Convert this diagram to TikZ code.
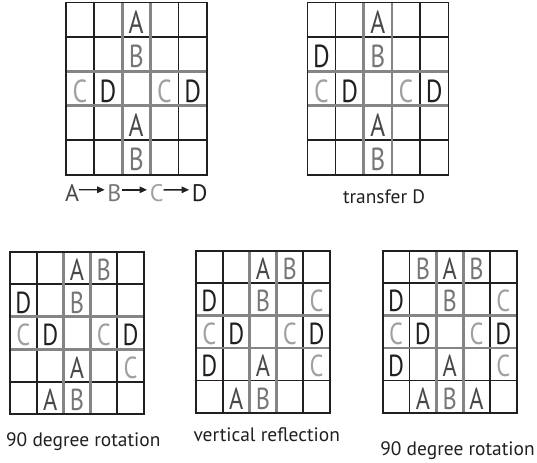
\documentclass[tikz,border=0pt]{standalone}
\usepackage{fontspec}
\setmainfont{PT Sans}
\newfontfamily\cellfont[FakeStretch=0.8]{PT Sans}
\usetikzlibrary{
    arrows.meta,
    positioning
}

\definecolor{inkD}{HTML}{231F20}
\definecolor{inkA}{HTML}{484848}
\definecolor{inkB}{HTML}{767676}
\definecolor{inkC}{HTML}{A0A0A0}
\definecolor{rulegray}{HTML}{858585}

\tikzset{
  board/.pic={
    \foreach \i in {1,4} {
      \draw[thinrule] (\i,0) -- (\i,5);
      \draw[thinrule] (0,\i) -- (5,\i);
    }
    \foreach \i in {2,3} {
      \draw[thickrule] (\i,0) -- (\i,5);
      \draw[thickrule] (0,\i) -- (5,\i);
    }
    \draw[thinrule] (0,0) rectangle (5,5);
  }
}

\begin{document}
\begin{tikzpicture}[
  x=1bp, y=-1bp,
  thinrule/.style={draw=inkD,line width=1.6bp},
  thickrule/.style={draw=rulegray,line width=2.8bp},
  cellsize/.style={font=\cellfont\fontsize{#1}{#1}\selectfont},
  celltext/.style={anchor=base,inner sep=0pt},
  cellA/.style={celltext,text=inkA},
  cellB/.style={celltext,text=inkB},
  cellC/.style={celltext,text=inkC},
  cellD/.style={celltext,text=inkD},
  captiontext/.style={anchor=base,inner sep=0pt,text=inkD,
    font=\fontsize{19.5}{19.5}\selectfont},
  arrow/.style={-{Triangle[length=7.5bp,width=6.5bp]},draw=inkD,line width=1.4bp}
]
\useasboundingbox (0,0) rectangle (537,463);

% starting board
\begin{scope}[shift={(65.7,2.7)},x=28.2bp,y=-34.4bp,every node/.style={cellsize=32}]
  \pic {board};
  \foreach \c/\r/\l in {3/1/A,3/2/B,1/3/C,2/3/D,4/3/C,5/3/D,3/4/A,3/5/B}
    \node[cell\l] (p1-\c-\r) at (\c-0.5,\r-0.11) {\l};
\end{scope}

% transfer D
\begin{scope}[shift={(307.3,2.7)},x=28.2bp,y=-34.4bp,every node/.style={cellsize=32}]
  \pic {board};
  \foreach \c/\r/\l in {3/1/A,1/2/D,3/2/B,1/3/C,2/3/D,4/3/C,5/3/D,3/4/A,3/5/B}
    \node[cell\l] (p2-\c-\r) at (\c-0.5,\r-0.11) {\l};
\end{scope}

% first rotation
\begin{scope}[shift={(10,251.7)},x=26.8bp,y=-32.5bp,every node/.style={cellsize=30.5}]
  \pic {board};
  \foreach \c/\r/\l in {3/1/A,4/1/B,1/2/D,3/2/B,1/3/C,2/3/D,4/3/C,5/3/D,
                        3/4/A,5/4/C,2/5/A,3/5/B}
    \node[cell\l] (p3-\c-\r) at (\c-0.5,\r-0.11) {\l};
\end{scope}

% reflection
\begin{scope}[shift={(196,250.7)},x=26.8bp,y=-32.4bp,every node/.style={cellsize=30.5}]
  \pic {board};
  \foreach \c/\r/\l in {3/1/A,4/1/B,1/2/D,3/2/B,5/2/C,1/3/C,2/3/D,4/3/C,5/3/D,
                        1/4/D,3/4/A,5/4/C,2/5/A,3/5/B}
    \node[cell\l] (p4-\c-\r) at (\c-0.5,\r-0.11) {\l};
\end{scope}

% second rotation
\begin{scope}[shift={(382.7,250.7)},x=26.8bp,y=-32.4bp,every node/.style={cellsize=30.5}]
  \pic {board};
  \foreach \c/\r/\l in {2/1/B,3/1/A,4/1/B,1/2/D,3/2/B,5/2/C,1/3/C,2/3/D,4/3/C,5/3/D,
                        1/4/D,3/4/A,5/4/C,2/5/A,3/5/B,4/5/A}
    \node[cell\l] (p5-\c-\r) at (\c-0.5,\r-0.11) {\l};
\end{scope}

% order of the letters
\begin{scope}[node distance=28bp,every node/.style={captiontext,font=\fontsize{24}{24}\selectfont}]
  \node[text=inkA] (seqA) at (72,201.7) {A};
  \node[text=inkB,base right=of seqA] (seqB) {B};
  \node[text=inkC,base right=of seqB] (seqC) {C};
  \node[text=inkD,base right=of seqC] (seqD) {D};
\end{scope}
\draw[arrow,shorten >=2.5bp] ([yshift=3.5bp]seqA.east) -- ([yshift=3.5bp]seqB.west);
\draw[arrow,shorten >=2.5bp] ([yshift=3.5bp]seqB.east) -- ([yshift=3.5bp]seqC.west);
\draw[arrow,shorten >=2.5bp] ([yshift=3.5bp]seqC.east) -- ([yshift=3.5bp]seqD.west);

\node[captiontext] (cap2) at (384,204) {transfer D};
\node[captiontext] (cap3) at (83.3,446.7) {90 degree rotation};
\node[captiontext] (cap4) at (266.7,441.7) {vertical reflection};
\node[captiontext] (cap5) at (457.5,455) {90 degree rotation};
\end{tikzpicture}
\end{document}
